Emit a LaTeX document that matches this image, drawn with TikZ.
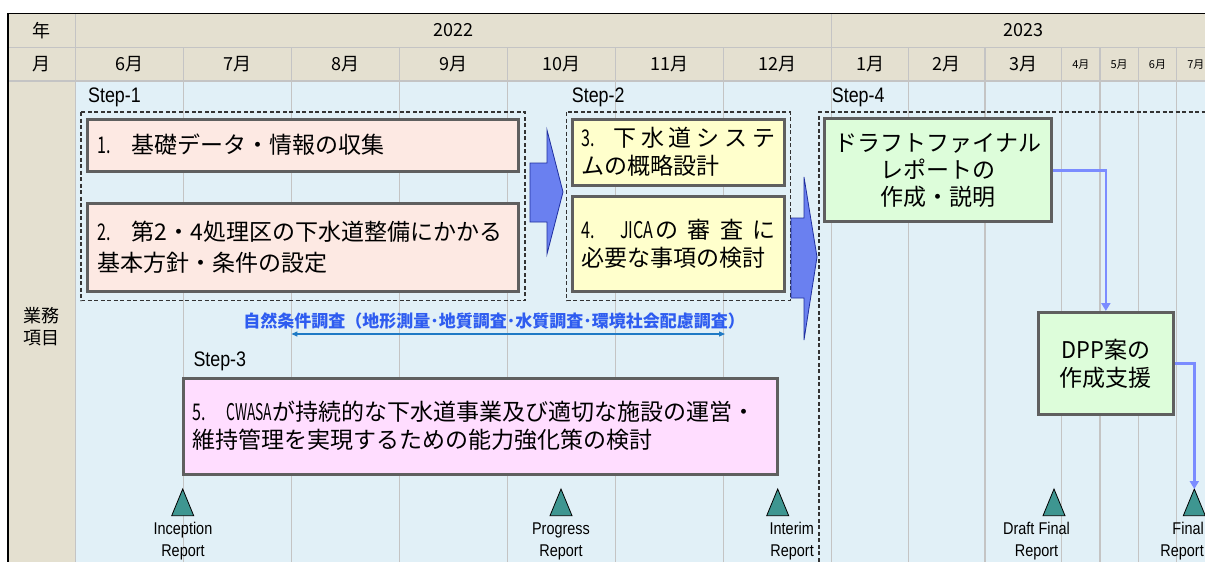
\documentclass[tikz,border=0pt]{standalone}
\usepackage{fontspec}
\usepackage{graphicx}
\usetikzlibrary{arrows.meta}
\newfontfamily\jp{Noto Sans CJK JP}
\newfontfamily\nar[FakeStretch=0.85]{Liberation Sans}
\newcommand\hw[2][0.7]{\scalebox{#1}[1]{#2}}
\definecolor{hdr}{HTML}{E4E0D0}
\definecolor{bodybg}{HTML}{E1F0F7}
\definecolor{gridc}{HTML}{C4C4C4}
\definecolor{pinkbox}{HTML}{FDE9E3}
\definecolor{yelbox}{HTML}{FFFFCC}
\definecolor{magbox}{HTML}{FFDDFF}
\definecolor{grnbox}{HTML}{DDFDDA}
\definecolor{boxedge}{HTML}{5F5F5F}
\definecolor{barfill}{HTML}{6A80F0}
\definecolor{baredge}{HTML}{1F2F9F}
\definecolor{flow}{HTML}{7B8CFF}
\definecolor{msteal}{HTML}{3E9691}
\definecolor{survey}{HTML}{2E5CF0}
\definecolor{surveyarr}{HTML}{1F7AC5}
\begin{document}
\begin{tikzpicture}[x=1pt,y=-1pt,
  hdrtxt/.style={font=\jp\fontsize{18}{22}\selectfont, inner sep=0pt, align=center},
  smallm/.style={font=\jp\fontsize{11}{12}\selectfont, inner sep=0pt},
  task/.style={draw=boxedge, line width=3pt, inner xsep=9pt, inner ysep=0pt, align=left, font=\jp\fontsize{23}{28}\selectfont},
  steplbl/.style={font=\nar\fontsize{21}{24}\selectfont, anchor=west, inner sep=0pt},
  stepframe/.style={draw=black!80, line width=1.3pt, dash pattern=on 4pt off 2.5pt},
  blockarrow/.style={fill=barfill, draw=baredge, line width=0.8pt},
  flowline/.style={draw=flow, line width=2.5pt, -{Triangle[length=8pt,width=9pt]}},
  mstone/.style={fill=msteal, draw=black, line width=0.8pt},
  mslbl/.style={font=\nar\fontsize{17}{22}\selectfont, inner sep=0pt, align=center},
  gridline/.style={draw=gridc, line width=1.2pt}
]
\useasboundingbox (0,0) rectangle (1205,562);
\clip (0,0) rectangle (1205,562);
% backgrounds
\fill[white] (0,0) rectangle (1205,562);
\fill[hdr] (8,13.3) rectangle (1215,81);
\fill[hdr] (8,81) rectangle (75.3,600);
\fill[bodybg] (75.3,81) rectangle (1215,600);
% grid
\draw[gridline] (8,47.3) -- (1215,47.3);
\draw[gridline] (8,81) -- (1215,81);
\draw[gridline] (75.3,13.3) -- (75.3,600);
\draw[gridline] (831.7,13.3) -- (831.7,47.3);
\foreach \x in {183.4,291.4,399.5,507.5,615.6,723.7,831.7,908.3,985,1061.7,1100,1138.3,1176.7}
  \draw[gridline] (\x,47.3) -- (\x,600);
\draw[black, line width=1.5pt] (8,600) -- (8,13.3) -- (1215,13.3);
% header texts
\node[hdrtxt] (hyear) at (41.5,30.3) {年};
\node[hdrtxt] (hmonth) at (41.5,64.2) {月};
\node[hdrtxt] (y2022) at (453.5,30.3) {2022};
\node[hdrtxt] (y2023) at (1023.3,30.3) {2023};
\foreach \c/\m [count=\i] in {129.35/6,237.4/7,345.45/8,453.5/9,561.55/10,669.65/11,777.7/12,870/1,946.65/2,1023.35/3}
  \node[hdrtxt] (mon\i) at (\c,64.2) {\m 月};
\foreach \c/\m [count=\i] in {1080.85/4,1119.15/5,1157.5/6,1195.85/7}
  \node[smallm] (smon\i) at (\c,64.2) {\m 月};
\node[hdrtxt] (gyomu) at (41.5,327) {業務\\項目};
% step frames
\draw[stepframe] (81,112) rectangle (525,300.5);
\draw[stepframe] (566.7,112) rectangle (790.3,300.5);
\draw[stepframe] (819,620) -- (819,112) -- (1300,112);
% step labels
\node[steplbl] (s1) at (88,97) {Step-1};
\node[steplbl] (s2) at (571.7,97) {Step-2};
\node[steplbl] (s4) at (831.7,97) {Step-4};
\node[steplbl] (s3) at (193.3,361.7) {Step-3};
% block arrows
\draw[blockarrow] (530,163) -- (547,163) -- (547,130) -- (563,192) -- (547,254) -- (547,222) -- (530,222) -- cycle;
\draw[blockarrow] (791,218) -- (804,218) -- (804,177) -- (817,257) -- (804,340) -- (804,298) -- (791,298) -- cycle;
% task boxes
\node[task, fill=pinkbox, minimum width=430.5pt, minimum height=52pt, text width=410pt] (t1) at (302.75,145)
  {\hw{1.}\hspace{0.9em}基礎データ・情報の収集};
\node[task, fill=pinkbox, minimum width=430.5pt, minimum height=88pt, text width=410pt,
      font=\jp\fontsize{23}{31}\selectfont] (t2) at (302.75,247.5)
  {\hw{2.}\hspace{0.9em}第2・4処理区の下水道整備にかかる\\基本方針・条件の設定};
\node[task, fill=yelbox, minimum width=212pt, minimum height=66pt, text width=194pt] (t3) at (678.5,152)
  {\makebox[194pt][l]{\hw{3.}\hspace{0.8em}下\hfill 水\hfill 道\hfill シ\hfill ス\hfill テ}\\ムの概略設計};
\node[task, fill=yelbox, minimum width=212pt, minimum height=95pt, text width=194pt] (t4) at (678.5,244)
  {\makebox[194pt][l]{\hw{4.}\hspace{1.1em}\hw{JICA}\hspace{2pt}の\hfill 審\hfill 査\hfill に}\\必要な事項の検討};
\node[task, fill=grnbox, minimum width=227pt, minimum height=103pt, text width=209pt, align=center,
      font=\jp\fontsize{23}{27}\selectfont] (dr) at (937.7,170.4)
  {ドラフトファイナル\\レポートの\\作成・説明};
\node[task, fill=grnbox, minimum width=135.3pt, minimum height=102pt, text width=117pt, align=center] (dpp) at (1105.85,363.5)
  {\hw[0.95]{DPP}案の\\作成支援};
\node[task, fill=magbox, minimum width=594.3pt, minimum height=96.5pt, text width=576pt] (t5) at (480.35,426.25)
  {\hw{5.}\hspace{0.9em}\hw[0.6]{CWASA}が持続的な下水道事業及び適切な施設の運営・\\維持管理を実現するための能力強化策の検討};
% survey
\node[font=\jp\bfseries\fontsize{17}{20}\selectfont, text=survey, inner sep=0pt] (sv) at (494,321)
  {自然条件調査（地形測量･地質調査･水質調査･環境社会配慮調査）};
\coordinate (svL) at (291.4,334);
\coordinate (svR) at (725,334);
\draw[draw=surveyarr, line width=1.2pt, {Triangle[length=6pt,width=5pt]}-{Triangle[length=6pt,width=5pt]}] (svL) -- (svR);
% milestones
\coordinate (mInc) at (182.7,489);
\coordinate (mPro) at (561,489);
\coordinate (mInt) at (777.7,489);
\coordinate (mDra) at (1054,489);
\coordinate (mFin) at (1194.3,489);
\foreach \p in {mInc,mPro,mInt,mDra,mFin}
  \draw[mstone] (\p) -- ++(11,26.7) -- ++(-22,0) -- cycle;
\node[mslbl] (lInc) at (183,541) {Inception\\Report};
\node[mslbl] (lPro) at (561,541) {Progress\\Report};
\node[mslbl, anchor=east, align=right] (lInt) at (814,541) {Interim\\Report};
\node[mslbl] (lDra) at (1036.5,541) {Draft Final\\Report};
\node[mslbl, anchor=east, align=right] (lFin) at (1204,541) {Final\\Report};
% flow connectors
\draw[flowline] (dr.east) -| (dpp.north);
\draw[flowline] (dpp.east) -| (mFin);
\end{tikzpicture}
\end{document}
